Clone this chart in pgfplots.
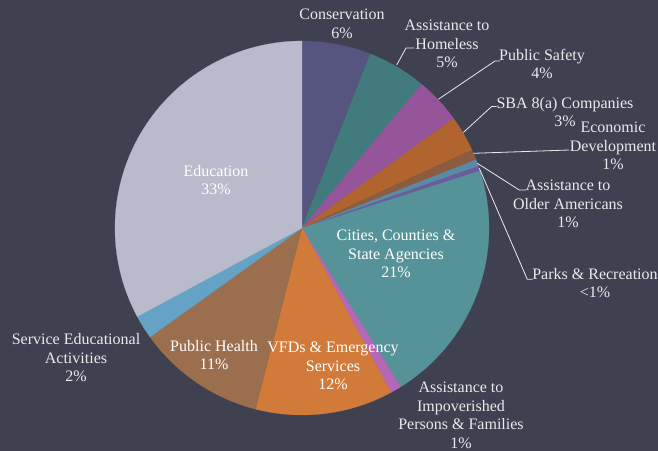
\documentclass[border=0pt]{standalone}
\usepackage{pgfplots}
\pgfplotsset{compat=1.18}
\usepackage{pgfplotstable}
\usepackage{fontspec}
\setmainfont{Liberation Serif}
\definecolor{bg}{HTML}{3F4150}
\definecolor{cCons}{HTML}{56557F}
\definecolor{cHome}{HTML}{427B7D}
\definecolor{cSafe}{HTML}{96559A}
\definecolor{cSBA}{HTML}{B2642E}
\definecolor{cEcon}{HTML}{8B5C3F}
\definecolor{cOld}{HTML}{5A8BA6}
\definecolor{cPark}{HTML}{6E5A9E}
\definecolor{cCity}{HTML}{559398}
\definecolor{cImp}{HTML}{B468B7}
\definecolor{cVFD}{HTML}{D27A3A}
\definecolor{cPH}{HTML}{9B6F4E}
\definecolor{cSE}{HTML}{64A3C6}
\definecolor{cEdu}{HTML}{B9BACB}
\definecolor{txt}{HTML}{EAEAEA}
\pgfplotstableread{
name value color
Conservation 5.95 cCons
Homeless 5.10 cHome
PublicSafety 4.00 cSafe
SBA 3.10 cSBA
EconDev 0.90 cEcon
OlderAmericans 0.60 cOld
Parks 0.40 cPark
Cities 21.10 cCity
Impoverished 0.95 cImp
VFDs 11.90 cVFD
PublicHealth 11.10 cPH
ServiceEd 2.05 cSE
Education 32.85 cEdu
}\piedata
\tikzset{lbl/.style={font=\fontsize{16bp}{18.5bp}\selectfont, align=center, text=txt, inner sep=0pt}}
\begin{document}
\begin{tikzpicture}
\useasboundingbox (0,0) rectangle (658bp,451bp);
\begin{axis}[
  x=1bp, y=1bp, y dir=reverse,
  xmin=0, xmax=658, ymin=0, ymax=451,
  axis lines=box, axis line style={draw=none},
  xtick=\empty, ytick=\empty,
  axis background/.style={fill=bg},
  clip=false,
]
\def\acc{0}
\pgfplotsforeachungrouped \i in {0,...,12} {
  \pgfplotstablegetelem{\i}{value}\of\piedata \let\v\pgfplotsretval
  \pgfplotstablegetelem{\i}{color}\of\piedata \let\c\pgfplotsretval
  \pgfmathsetmacro\a{\acc*3.6}
  \pgfmathsetmacro\b{(\acc+\v)*3.6}
  \edef\cmd{\noexpand\addplot[fill=\c, draw=\c, line width=0.2bp, domain=\a:\b, samples=80, smooth=false] ({302+187*sin(x)},{228-187*cos(x)}) -- (axis cs:302,228) -- cycle;}
  \cmd
  \pgfmathsetmacro\acc{\acc+\v}
}
% leader lines
\pgfplotsset{leader/.style={draw=txt, line width=0.8bp, mark=none}}
\addplot[leader] coordinates {(396.7,65) (406,48) (414,48)};
\addplot[leader] coordinates {(438.3,99.3) (495,61) (500,61)};
\addplot[leader] coordinates {(463.3,132.5) (491.7,106.5) (496.5,106.5)};
\addplot[leader] coordinates {(473.3,153.3) (569,150)};
\addplot[leader] coordinates {(477.3,163.3) (519.3,190) (526,190)};
\addplot[leader] coordinates {(479.3,168.3) (527.3,279.3) (532.7,279.3)};
% outside labels
\node[lbl] at (axis cs:342,24) {Conservation\\6\%};
\node[lbl] at (axis cs:447,44) {Assistance to\\Homeless\\5\%};
\node[lbl] at (axis cs:542,64) {Public Safety\\4\%};
\node[lbl] at (axis cs:565,112) {SBA 8(a) Companies\\3\%};
\node[lbl] at (axis cs:613,146) {Economic\\Development\\1\%};
\node[lbl] at (axis cs:568,204) {Assistance to\\Older Americans\\1\%};
\node[lbl] at (axis cs:595,283) {Parks \& Recreation\\<1\%};
\node[lbl] at (axis cs:76,358) {Service Educational\\Activities\\2\%};
\node[lbl] at (axis cs:461,415.5) {Assistance to\\Impoverished\\Persons \& Families\\1\%};
% inside labels
\node[lbl, text=white] at (axis cs:216,180) {Education\\33\%};
\node[lbl, text=white] at (axis cs:396,254) {Cities, Counties \&\\State Agencies\\21\%};
\node[lbl, text=white] at (axis cs:214,355) {Public Health\\11\%};
\node[lbl, text=white] at (axis cs:333,366) {VFDs \& Emergency\\Services\\12\%};
\end{axis}
\end{tikzpicture}
\end{document}
